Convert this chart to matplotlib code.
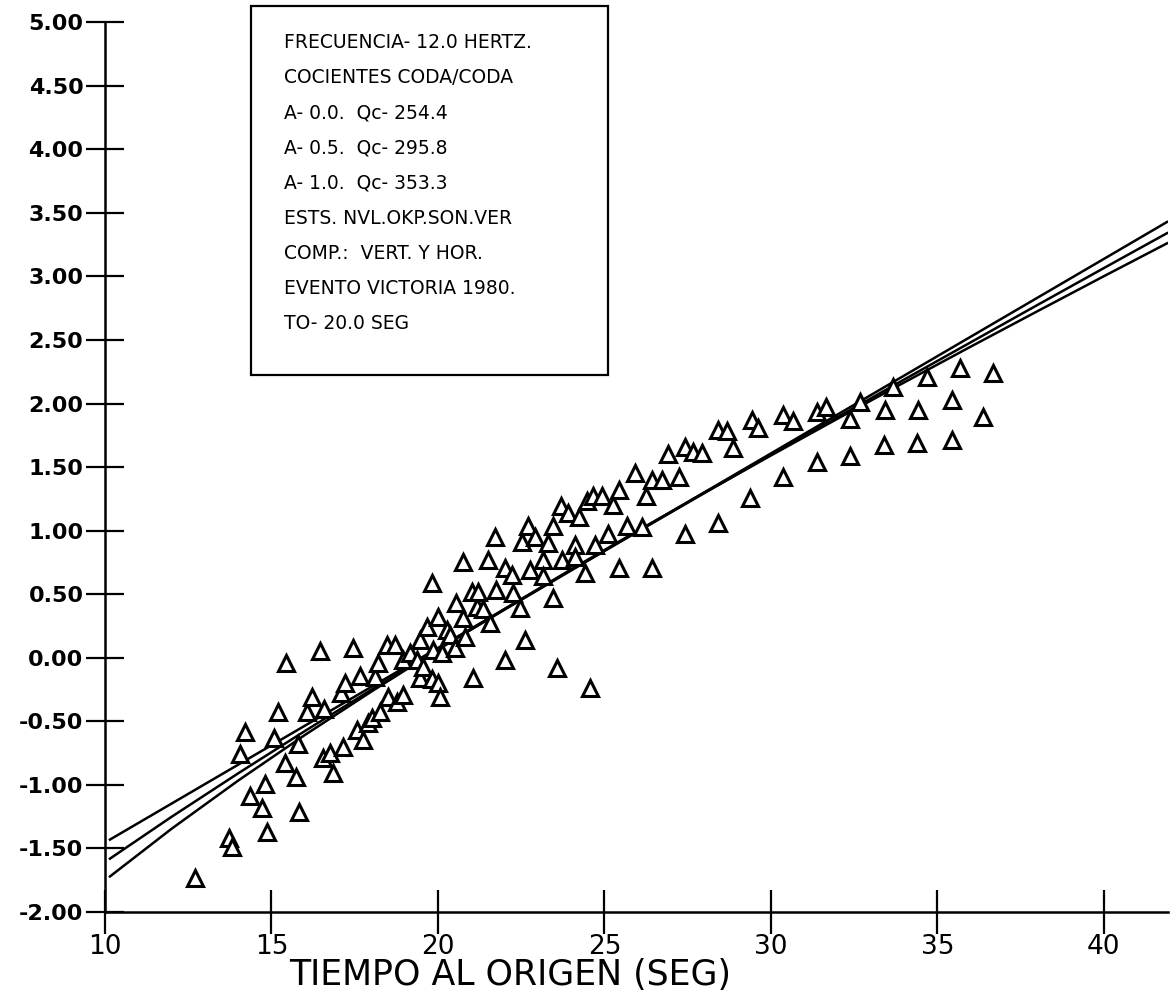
import matplotlib
matplotlib.use("Agg")
import matplotlib.pyplot as plt

# puntos observados (tiempo al origen, cociente)
t_obs = [12.70, 13.72, 13.81, 14.05, 14.20, 14.35, 14.71, 14.80, 14.86, 15.08,
         15.20, 15.41, 15.44, 15.74, 15.80, 15.83, 16.07, 16.22, 16.46, 16.55,
         16.58, 16.76, 16.85, 17.09, 17.15, 17.21, 17.45, 17.57, 17.66, 17.75,
         17.90, 18.02, 18.11, 18.20, 18.26, 18.47, 18.50, 18.71, 18.77, 18.95,
         18.95, 19.16, 19.37, 19.46, 19.46, 19.55, 19.67, 19.82, 19.82, 19.85,
         20.00, 20.00, 20.06, 20.12, 20.27, 20.36, 20.51, 20.54, 20.75, 20.75,
         20.81, 21.02, 21.05, 21.17, 21.20, 21.35, 21.50, 21.56, 21.71, 21.74,
         22.01, 22.01, 22.22, 22.25, 22.46, 22.52, 22.61, 22.70, 22.76, 22.91,
         23.15, 23.15, 23.30, 23.45, 23.45, 23.57, 23.69, 23.72, 23.90, 24.11,
         24.11, 24.23, 24.41, 24.47, 24.56, 24.65, 24.71, 24.92, 25.11, 25.26,
         25.44, 25.44, 25.68, 25.92, 26.13, 26.25, 26.43, 26.43, 26.73, 26.91,
         27.24, 27.42, 27.42, 27.66, 27.93, 28.41, 28.41, 28.68, 28.86, 29.37,
         29.43, 29.61, 30.36, 30.36, 30.66, 31.38, 31.38, 31.65, 32.37, 32.37,
         32.67, 33.39, 33.42, 33.66, 34.38, 34.41, 34.68, 35.44, 35.44, 35.68,
         36.37, 36.67]
y_obs = [-1.73, -1.42, -1.49, -0.76, -0.58, -1.09, -1.18, -0.99, -1.37, -0.63,
         -0.43, -0.83, -0.04, -0.94, -0.68, -1.21, -0.43, -0.31, 0.05, -0.79,
         -0.40, -0.75, -0.91, -0.28, -0.70, -0.20, 0.08, -0.57, -0.14, -0.65,
         -0.51, -0.47, -0.15, -0.04, -0.43, 0.10, -0.31, 0.10, -0.35, -0.02,
         -0.29, 0.04, -0.02, 0.14, -0.16, -0.07, 0.24, 0.59, -0.17, 0.06,
         0.32, -0.20, -0.31, 0.04, 0.22, 0.18, 0.08, 0.43, 0.75, 0.31,
         0.16, 0.52, -0.16, 0.40, 0.52, 0.38, 0.77, 0.27, 0.95, 0.53,
         0.71, -0.02, 0.65, 0.51, 0.39, 0.91, 0.14, 1.04, 0.69, 0.95,
         0.77, 0.64, 0.90, 1.04, 0.47, -0.08, 1.19, 0.77, 1.14, 0.89,
         0.79, 1.11, 0.67, 1.23, -0.24, 1.27, 0.89, 1.27, 0.97, 1.20,
         1.32, 0.71, 1.04, 1.45, 1.03, 1.27, 1.40, 0.71, 1.40, 1.60,
         1.42, 1.66, 0.97, 1.62, 1.61, 1.79, 1.06, 1.78, 1.65, 1.26,
         1.87, 1.81, 1.91, 1.42, 1.86, 1.93, 1.54, 1.97, 1.88, 1.59,
         2.01, 1.67, 1.95, 2.13, 1.69, 1.95, 2.21, 2.03, 1.71, 2.28,
         1.89, 2.24]

# curvas ajustadas (A=0.0, 0.5, 1.0)
t_fit = [10.15, 12, 14, 16, 18, 20, 22, 24, 26, 28, 30, 32, 34, 36, 38, 40, 41.9]
y_a00 = [-1.430, -1.147, -0.841, -0.535, -0.229, 0.077, 0.383, 0.689, 0.995,
         1.301, 1.607, 1.913, 2.219, 2.525, 2.831, 3.137, 3.428]
y_a05 = [-1.580, -1.251, -0.909, -0.577, -0.252, 0.066, 0.378, 0.687, 0.992,
         1.295, 1.595, 1.892, 2.188, 2.481, 2.774, 3.065, 3.340]
y_a10 = [-1.720, -1.345, -0.966, -0.608, -0.266, 0.064, 0.383, 0.695, 0.999,
         1.298, 1.591, 1.880, 2.165, 2.447, 2.725, 3.001, 3.260]

y_ticks = [-2.0, -1.5, -1.0, -0.5, 0.0, 0.5, 1.0, 1.5, 2.0, 2.5, 3.0, 3.5, 4.0, 4.5, 5.0]
x_ticks = [10, 15, 20, 25, 30, 35, 40]

info = ["FRECUENCIA- 12.0 HERTZ.",
        "COCIENTES CODA/CODA",
        "A- 0.0.  Qc- 254.4",
        "A- 0.5.  Qc- 295.8",
        "A- 1.0.  Qc- 353.3",
        "ESTS. NVL.OKP.SON.VER",
        "COMP.:  VERT. Y HOR.",
        "EVENTO VICTORIA 1980.",
        "TO- 20.0 SEG"]

fig = plt.figure(figsize=(11.73, 10.05), dpi=100)
ax = fig.add_axes([0.0895, 0.0925, 0.906, 0.8855])

for yy in (y_a00, y_a05, y_a10):
    ax.plot(t_fit, yy, color='black', lw=1.8)

ax.plot(t_obs, y_obs, linestyle='none', marker='^', ms=12, mfc='white',
        mec='black', mew=2.2)

ax.set_xlim(10, 41.92)
ax.set_ylim(-2, 5)
ax.spines['top'].set_visible(False)
ax.spines['right'].set_visible(False)
ax.spines['left'].set_linewidth(1.8)
ax.spines['bottom'].set_linewidth(1.8)

ax.set_yticks(y_ticks)
ax.set_yticklabels(['%.2f' % v for v in y_ticks], fontsize=16, fontweight='bold')
ax.tick_params(axis='y', direction='inout', length=27, width=1.6, pad=2)

ax.set_xticks(x_ticks)
ax.set_xticklabels([str(v) for v in x_ticks], fontsize=19)
ax.tick_params(axis='x', direction='inout', length=32, width=1.6, pad=0)

# titulo del eje x, desplazado a la izquierda como en el original
fig.text(0.435, 0.030, "TIEMPO AL ORIGEN (SEG)", fontsize=25,
         ha='center', va='center')

# recuadro con la informacion
box = plt.Rectangle((0.137, 0.603), 0.336, 0.415, transform=ax.transAxes,
                    fill=False, lw=1.6, color='black', clip_on=False)
ax.add_patch(box)
for i, line in enumerate(info):
    ax.text(0.168, 0.977 - i * 0.0395, line, transform=ax.transAxes,
            fontsize=13.5, va='center', ha='left')

fig.savefig("out.png", dpi=100)
